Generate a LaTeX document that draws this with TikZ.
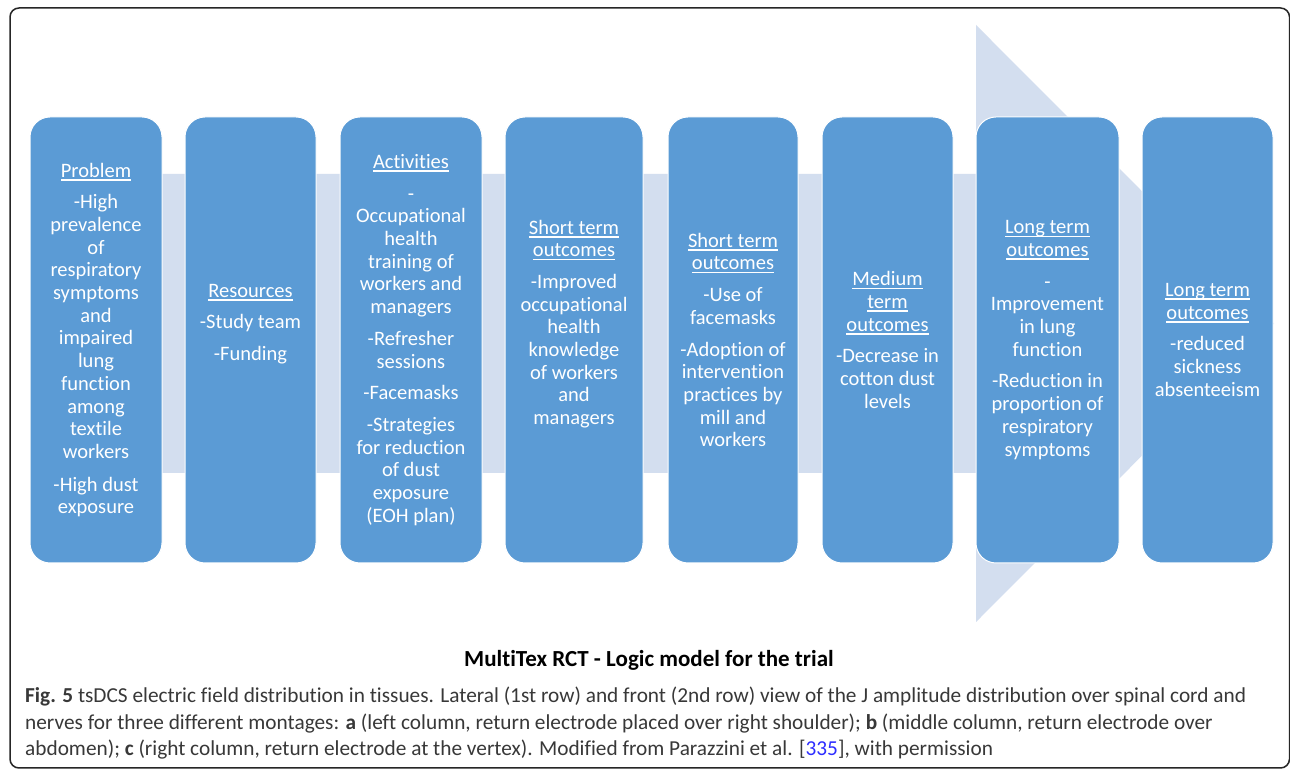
\documentclass[tikz,border=0pt]{standalone}
\usepackage{fontspec}
\setmainfont{Carlito}[Ligatures=NoCommon]
\definecolor{stageblue}{HTML}{5B9BD5}
\definecolor{flowband}{HTML}{D3DEEF}
\definecolor{capgray}{HTML}{383838}
\definecolor{reflink}{HTML}{2E2EFF}
% underlined heading line, rule at a fixed depth
\newcommand{\hd}[1]{\leavevmode\setbox0=\hbox{#1}\rlap{\rule[-3.5pt]{\wd0}{1.6pt}}\box0}
\tikzset{
  stage/.style={fill=stageblue, draw=white, line width=1pt, rounded corners=20pt,
    minimum height=446pt, inner sep=0pt},
  stagetext/.style={text=white, align=center, inner sep=0pt,
    font=\fontsize{20.5}{22.7}\selectfont},
  capline/.style={anchor=base west, inner sep=0pt, text=capgray,
    font=\fontsize{21.3}{26}\selectfont},
}

\begin{document}
\begin{tikzpicture}[x=1pt, y=1pt]
  \useasboundingbox (0,0) rectangle (1290,770);
  \fill[white] (0,0) rectangle (1290,770);

  % Frame
  \begin{scope}
    \clip (0,0) rectangle (1290,770);
    \draw[line width=1.5pt, color=black!85, rounded corners=9pt] (10,2) rectangle (1289.5,762);
  \end{scope}

  % Background arrow
  \fill[flowband] (30,596) -- (976,596) -- (976,745) -- (1274,446.5)
    -- (976,148) -- (976,297) -- (30,297) -- cycle;

  % Stages
  \node[stage, minimum width=132pt] (prob) at (96,430) {};
  \node[stage, minimum width=131pt] (res) at (250.5,430) {};
  \node[stage, minimum width=142pt] (act) at (411,430) {};
  \node[stage, minimum width=138pt] (short1) at (574,430) {};
  \node[stage, minimum width=130pt] (short2) at (733,430) {};
  \node[stage, minimum width=131pt] (medium) at (887.5,430) {};
  \node[stage, minimum width=143pt] (long1) at (1047.5,430) {};
  \node[stage, minimum width=131pt] (long2) at (1207.5,430) {};

  % Stage texts
  \node[stagetext] (probtxt) at (prob) {\hd{Problem}\\[9pt]
    -High\\prevalence\\of\\respiratory\\symptoms\\and\\impaired\\lung\\function\\among\\textile\\workers\\[10pt]
    -High dust\\exposure};
  \node[stagetext] (restxt) at ([yshift=16pt]res.center) {\hd{Resources}\\[9pt]
    -Study team\\[9pt]-Funding};
  \node[stagetext] (acttxt) at (act) {\hd{Activities}\\[9pt]
    -\\Occupational\\health\\training of\\workers and\\managers\\[9pt]
    -Refresher\\sessions\\[9pt]-Facemasks\\[9pt]
    -Strategies\\for reduction\\of dust\\exposure\\(EOH plan)};
  \node[stagetext] (short1txt) at ([yshift=16pt]short1.center) {\hd{Short term}\\\hd{outcomes}\\[9pt]
    -Improved\\occupational\\health\\knowledge\\of workers\\and\\managers};
  \node[stagetext] (short2txt) at (short2) {\hd{Short term}\\\hd{outcomes}\\[9pt]
    -Use of\\facemasks\\[9pt]
    -Adoption of\\intervention\\practices by\\mill and\\workers};
  \node[stagetext] (mediumtxt) at (medium) {\hd{Medium}\\\hd{term}\\\hd{outcomes}\\[9pt]
    -Decrease in\\cotton dust\\levels};
  \node[stagetext] (long1txt) at (long1) {\hd{Long term}\\\hd{outcomes}\\[9pt]
    -\\Improvement\\in lung\\function\\[9pt]
    -Reduction in\\proportion of\\respiratory\\symptoms};
  \node[stagetext] (long2txt) at (long2) {\hd{Long term}\\\hd{outcomes}\\[9pt]
    -reduced\\sickness\\absenteeism};

  % Title and caption
  \node[font=\fontsize{23}{27}\selectfont\bfseries] (title) at (649,110)
    {MultiTex RCT - Logic model for the trial};
  \node[capline] (cap1) at (25,67)
    {\textbf{Fig. 5} tsDCS electric field distribution in tissues. Lateral (1st row) and front (2nd row) view of the J amplitude distribution over spinal cord and};
  \node[capline] (cap2) at (25,40)
    {nerves for three different montages: \textbf{a} (left column, return electrode placed over right shoulder); \textbf{b} (middle column, return electrode over};
  \node[capline] (cap3) at (25,14)
    {abdomen); \textbf{c} (right column, return electrode at the vertex). Modified from Parazzini et al. [{\color{reflink}335}], with permission};
\end{tikzpicture}
\end{document}
